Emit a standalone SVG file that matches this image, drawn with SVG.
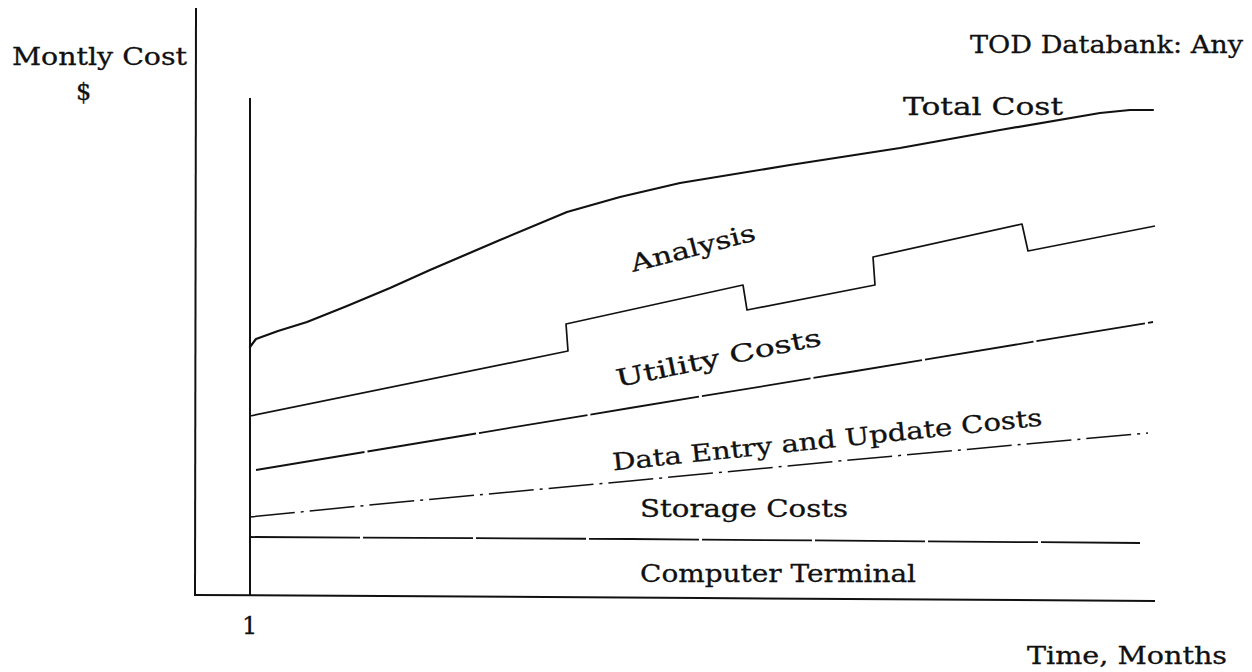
<svg xmlns="http://www.w3.org/2000/svg" width="1252" height="672" viewBox="0 0 1252 672">
<style>
.t{font-family:"DejaVu Serif","Liberation Serif",serif;font-size:24px;fill:#111;stroke:#111;stroke-width:0.3}
.ax{fill:none;stroke:#111;stroke-width:2}
.c{fill:none;stroke:#111;stroke-width:1.7;stroke-linejoin:round}
.thick{fill:none;stroke:#111;stroke-width:2.2;stroke-linejoin:round;stroke-linecap:round}
.ds{fill:none;stroke:#111;stroke-width:1.5;stroke-dasharray:45 6 3 6}
.dl{fill:none;stroke:#111;stroke-width:1.8;stroke-dasharray:110 3}
</style>
<rect width="1252" height="672" fill="#fff"/>
<g id="axes">
<line class="ax" x1="196" y1="8" x2="195" y2="596"/>
<line class="ax" x1="250" y1="98" x2="250" y2="596"/>
<path class="ax" d="M194,595 L700,598 L1155,601"/>
</g>
<g id="curves">
<path class="thick" d="M250,347 L256,339 L278,331 L307,322 L347,306 L390,288 L430,270 L500,240 L567,212 L620,197 L680,183 L790,165 L900,148 L1000,130 L1100,113 L1130,110 L1153,110"/>
<path class="c" d="M250,416 L568,351 L566,324 L743,285 L747,310 L875,285 L873,257 L1022,224 L1028,251 L1155,226"/>
<path class="dl" d="M256,470 L467,435 L630,408 L850,372 L1153,322"/>
<path class="ds" d="M250,517 L380,504 L630,481 L850,460 L1148,433"/>
<path class="dl" d="M250,537 L630,539 L1140,543"/>
</g>
<g id="labels">
<text class="t" x="12" y="65" textLength="175" lengthAdjust="spacingAndGlyphs">Montly Cost</text>
<text class="t" x="76" y="100">$</text>
<text class="t" x="970" y="53" textLength="273" lengthAdjust="spacingAndGlyphs">TOD Databank: Any</text>
<text class="t" x="903" y="115" textLength="160" lengthAdjust="spacingAndGlyphs">Total Cost</text>
<text class="t" x="695" y="256" text-anchor="middle" textLength="128" lengthAdjust="spacingAndGlyphs" transform="rotate(-14.5 695 256)">Analysis</text>
<text class="t" x="720" y="366" text-anchor="middle" textLength="209" lengthAdjust="spacingAndGlyphs" transform="rotate(-11.6 720 366)">Utility Costs</text>
<text class="t" x="828" y="448" text-anchor="middle" textLength="432" lengthAdjust="spacingAndGlyphs" transform="rotate(-6 828 448)">Data Entry and Update Costs</text>
<text class="t" x="640" y="517" textLength="208" lengthAdjust="spacingAndGlyphs">Storage Costs</text>
<text class="t" x="640" y="582" textLength="276" lengthAdjust="spacingAndGlyphs">Computer Terminal</text>
<text class="t" x="242" y="634">1</text>
<text class="t" x="1027" y="664" textLength="200" lengthAdjust="spacingAndGlyphs">Time, Months</text>
</g>
</svg>
